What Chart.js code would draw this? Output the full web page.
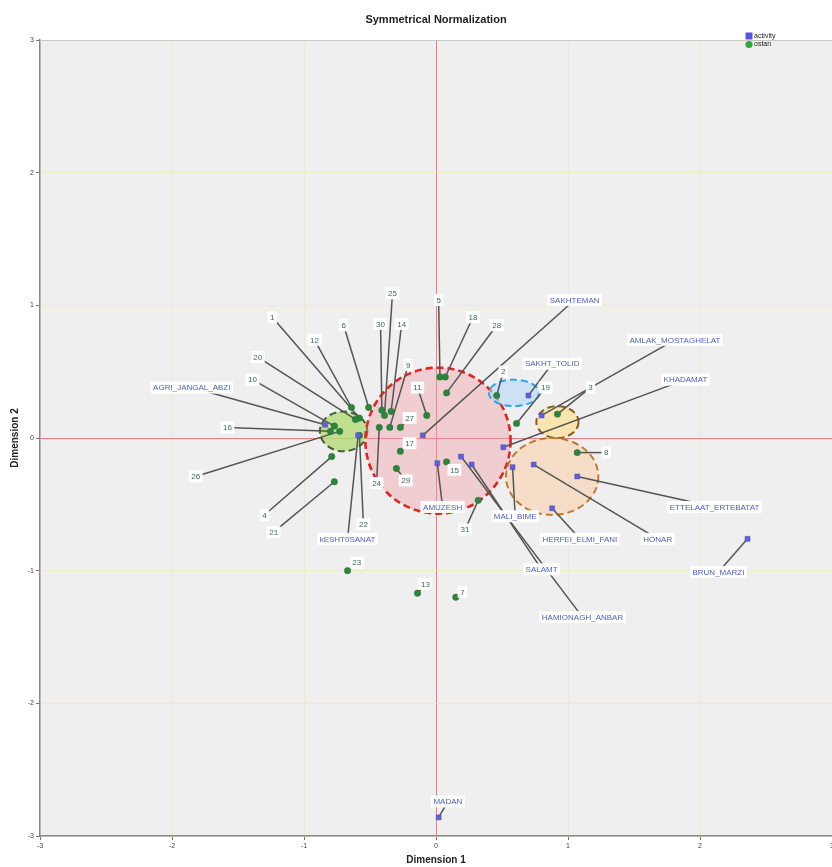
<!DOCTYPE html>
<html>
<head>
<meta charset="utf-8">
<script src="https://cdn.jsdelivr.net/npm/chart.js@4/dist/chart.umd.min.js"></script>
<style>
html, body { margin: 0; padding: 0; background: #fff; overflow: hidden; }
canvas { display: block; }
</style>
</head>
<body>
<canvas id="c" width="880" height="867"></canvas>
<script>
// Row points (ostan) — coordinates on Dimension 1 / Dimension 2
const ostanNames = ['1','2','3','4','5','6','7','8','9','10','11','12','13','14','15','16',
  '17','18','19','20','21','22','23','24','25','26','27','28','29','30','31'];
const ostanDim1 = [-0.58, 0.46, 0.92, -0.79, 0.03, -0.51, 0.15, 1.07, -0.35, -0.77, -0.07, -0.64, -0.14, -0.34, 0.08, -0.80,
  -0.27, 0.07, 0.61, -0.61, -0.77, -0.58, -0.67, -0.43, -0.39, -0.73, -0.27, 0.08, -0.30, -0.41, 0.32];
const ostanDim2 = [0.15, 0.32, 0.18, -0.14, 0.46, 0.23, -1.20, -0.11, 0.08, 0.09, 0.17, 0.23, -1.17, 0.20, -0.18, 0.05,
  -0.10, 0.46, 0.11, 0.14, -0.33, 0.02, -1.00, 0.08, 0.17, 0.05, 0.08, 0.34, -0.23, 0.21, -0.47];

// Column points (activity)
const activityNames = ['AGRI_JANGAL_ABZI','kESHT0SANAT','SAKHTEMAN','AMUZESH','MALI_BIME','SALAMT','HAMIONAGH_ANBAR',
  'KHADAMAT','AMLAK_MOSTAGHELAT','SAKHT_TOLID','HONAR','ETTELAAT_ERTEBATAT','HERFEI_ELMI_FANI','BRUN_MARZI','MADAN'];
const activityDim1 = [-0.84, -0.59, -0.10, 0.01, 0.58, 0.27, 0.19, 0.51, 0.80, 0.70, 0.74, 1.07, 0.88, 2.36, 0.02];
const activityDim2 = [0.10, 0.02, 0.02, -0.19, -0.22, -0.20, -0.14, -0.07, 0.17, 0.32, -0.20, -0.29, -0.53, -0.76, -2.86];

// Axis ticks
const axisTicks = [-3, -2, -1, 0, 1, 2, 3];

// Where each callout label sits (in axis units)
const ostanLabelDim1 = [-1.24, 0.51, 1.17, -1.30, 0.02, -0.70, 0.20, 1.29, -0.21, -1.39, -0.14, -0.92, -0.08, -0.26, 0.14, -1.58,
  -0.20, 0.28, 0.83, -1.35, -1.23, -0.55, -0.60, -0.45, -0.33, -1.82, -0.20, 0.46, -0.23, -0.42, 0.22];
const ostanLabelDim2 = [0.91, 0.50, 0.38, -0.58, 1.04, 0.85, -1.16, -0.11, 0.55, 0.44, 0.38, 0.74, -1.10, 0.86, -0.24, 0.08,
  -0.04, 0.91, 0.38, 0.61, -0.71, -0.65, -0.94, -0.34, 1.09, -0.29, 0.15, 0.85, -0.32, 0.86, -0.69];
const activityLabelDim1 = [-1.85, -0.67, 1.05, 0.05, 0.60, 0.80, 1.11, 1.89, 1.81, 0.88, 1.68, 2.11, 1.09, 2.14, 0.09];
const activityLabelDim2 = [0.38, -0.76, 1.04, -0.52, -0.59, -0.99, -1.35, 0.44, 0.74, 0.56, -0.76, -0.52, -0.76, -1.01, -2.74];

// Highlighted groups: centre and radii in axis units
const groupCx = [-0.70, 0.015, 0.59, 0.92, 0.88];
const groupCy = [0.05, -0.02, 0.34, 0.12, -0.29];
const groupRx = [0.18, 0.55, 0.19, 0.16, 0.35];
const groupRy = [0.15, 0.55, 0.10, 0.12, 0.29];
const groupFill = ['rgba(180,220,120,0.8)', 'rgba(240,150,160,0.38)', 'rgba(180,215,245,0.6)', 'rgba(250,225,150,0.7)', 'rgba(250,205,165,0.55)'];
const groupStroke = ['#4b5a3c', '#e52222', '#2aa8e2', '#8a5a1c', '#c47a2c'];
const groupWidth = [2, 2.6, 2, 2, 2];

const FONT = '"Liberation Sans", Arial, sans-serif';

const calloutPlugin = {
  id: 'callouts',
  beforeDraw(chart) {
    const { ctx, chartArea: a } = chart;
    ctx.save();
    ctx.fillStyle = '#efefef';
    ctx.fillRect(a.left, a.top, a.right - a.left, a.bottom - a.top);
    ctx.restore();
  },
  beforeDatasetsDraw(chart) {
    const { ctx, scales: { x, y } } = chart;
    ctx.save();
    // group ellipses
    for (let i = 0; i < groupCx.length; i++) {
      const cx = x.getPixelForValue(groupCx[i]);
      const cy = y.getPixelForValue(groupCy[i]);
      const rx = Math.abs(x.getPixelForValue(groupCx[i] + groupRx[i]) - cx);
      const ry = Math.abs(y.getPixelForValue(groupCy[i] + groupRy[i]) - cy);
      ctx.beginPath();
      ctx.ellipse(cx, cy, rx, ry, 0, 0, Math.PI * 2);
      ctx.fillStyle = groupFill[i];
      ctx.fill();
      ctx.setLineDash([7, 4]);
      ctx.lineWidth = groupWidth[i];
      ctx.strokeStyle = groupStroke[i];
      ctx.stroke();
    }
    ctx.setLineDash([]);
    // leader lines
    ctx.strokeStyle = '#555';
    ctx.lineWidth = 1.5;
    const lines = (px, py, lx, ly) => {
      for (let i = 0; i < px.length; i++) {
        ctx.beginPath();
        ctx.moveTo(x.getPixelForValue(lx[i]), y.getPixelForValue(ly[i]));
        ctx.lineTo(x.getPixelForValue(px[i]), y.getPixelForValue(py[i]));
        ctx.stroke();
      }
    };
    lines(ostanDim1, ostanDim2, ostanLabelDim1, ostanLabelDim2);
    lines(activityDim1, activityDim2, activityLabelDim1, activityLabelDim2);
    ctx.restore();
  },
  afterDatasetsDraw(chart) {
    const { ctx, chartArea: a, scales: { x, y } } = chart;
    ctx.save();
    ctx.font = '8px ' + FONT;
    ctx.textAlign = 'center';
    ctx.textBaseline = 'middle';
    const boxes = (names, lx, ly, color) => {
      for (let i = 0; i < names.length; i++) {
        const cx = x.getPixelForValue(lx[i]);
        const cy = y.getPixelForValue(ly[i]);
        const w = ctx.measureText(names[i]).width + 5;
        ctx.fillStyle = 'rgba(255,255,255,0.95)';
        ctx.fillRect(cx - w / 2, cy - 6, w, 12);
        ctx.fillStyle = color;
        ctx.fillText(names[i], cx, cy + 0.5);
      }
    };
    boxes(ostanNames, ostanLabelDim1, ostanLabelDim2, '#3f6a5c');
    boxes(activityNames, activityLabelDim1, activityLabelDim2, '#4f62c2');

    // plot frame (top edge)
    ctx.strokeStyle = '#c8c8c8';
    ctx.lineWidth = 1;
    ctx.beginPath();
    ctx.moveTo(a.left, a.top + 0.5);
    ctx.lineTo(a.right, a.top + 0.5);
    ctx.stroke();

    // legend
    const lx = a.right - 83, ly = a.top - 4;
    ctx.fillStyle = '#5656e0';
    ctx.fillRect(lx - 3.5, ly - 3.5, 7, 7);
    ctx.beginPath();
    ctx.arc(lx, ly + 8.5, 3.6, 0, Math.PI * 2);
    ctx.fillStyle = '#2fa83a';
    ctx.fill();
    ctx.fillStyle = '#222';
    ctx.textAlign = 'left';
    ctx.font = '7px ' + FONT;
    ctx.fillText('activity', lx + 5, ly);
    ctx.fillText('ostan', lx + 5, ly + 8.5);
    ctx.restore();
  }
};

const gridColor = (c) => (c.tick && c.tick.value === 0) ? '#f07c7c' : '#eeeacb';

new Chart(document.getElementById('c'), {
  type: 'scatter',
  data: {
    datasets: [
      {
        label: 'activity',
        data: activityNames.map((n, i) => ({ x: activityDim1[i], y: activityDim2[i] })),
        pointStyle: 'rect',
        pointRadius: 3.5,
        backgroundColor: '#6060d8',
        borderColor: '#4848c0',
        borderWidth: 0.5
      },
      {
        label: 'ostan',
        data: ostanNames.map((n, i) => ({ x: ostanDim1[i], y: ostanDim2[i] })),
        pointStyle: 'circle',
        pointRadius: 3.2,
        backgroundColor: '#2b853d',
        borderColor: '#226e32',
        borderWidth: 0.5
      }
    ]
  },
  options: {
    responsive: false,
    animation: false,
    layout: { padding: { left: 0, right: 48, top: 0, bottom: 0 } },
    plugins: {
      legend: { display: false },
      tooltip: { enabled: false },
      title: {
        display: true,
        fullSize: false,
        text: 'Symmetrical Normalization',
        color: '#222',
        font: { family: FONT, size: 11, weight: 'bold' },
        padding: { top: 13, bottom: 13.8 }
      }
    },
    scales: {
      x: {
        type: 'linear',
        min: -3, max: 3,
        afterBuildTicks: (s) => { s.ticks = axisTicks.map(v => ({ value: v })); },
        afterFit: (s) => { s.height = 31; },
        ticks: { font: { family: FONT, size: 7 }, color: '#444', padding: 2, callback: (v) => String(v) },
        grid: { color: gridColor, lineWidth: 1, drawTicks: true, tickLength: 4, tickColor: '#777' },
        border: { display: true, color: '#8a8a8a', width: 1.5 },
        title: { display: true, text: 'Dimension 1', color: '#222', font: { family: FONT, size: 10, weight: 'bold' }, padding: { top: 0, bottom: 1 } }
      },
      y: {
        type: 'linear',
        min: -3, max: 3,
        afterBuildTicks: (s) => { s.ticks = axisTicks.map(v => ({ value: v })); },
        afterFit: (s) => { s.width = 40; },
        ticks: { font: { family: FONT, size: 7 }, color: '#444', padding: 2, callback: (v) => String(v) },
        grid: { color: gridColor, lineWidth: 1, drawTicks: true, tickLength: 4, tickColor: '#777' },
        border: { display: true, color: '#8a8a8a', width: 1.5 },
        title: { display: true, text: 'Dimension 2', color: '#222', font: { family: FONT, size: 10, weight: 'bold' }, padding: { top: 9, bottom: 0 } }
      }
    }
  },
  plugins: [calloutPlugin]
});
</script>
</body>
</html>
